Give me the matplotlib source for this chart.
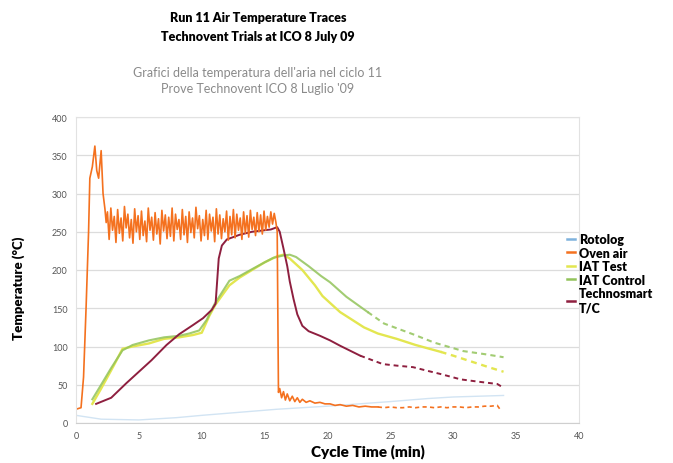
import numpy as np
import matplotlib
matplotlib.use("Agg")
import matplotlib.pyplot as plt

plt.rcParams['font.family'] = ['Lato', 'DejaVu Sans']

# Oven air: ramp, double peak, noisy plateau, drop and tail
oven_start_t = [0.0, 0.4, 0.6, 0.8, 1.0, 1.1, 1.3, 1.5, 1.65, 1.8, 2.0, 2.15, 2.3, 2.4]
oven_start_v = [18, 20, 60, 150, 250, 320, 335, 362, 330, 320, 356, 300, 280, 262]
oven_plateau_v = [276, 240, 281, 252, 270, 236, 279, 248, 268, 238, 283, 255, 273, 242,
                  266, 235, 280, 250, 271, 240, 277, 245, 264, 237, 281, 252, 269, 239,
                  275, 247, 267, 234, 278, 251, 272, 241, 269, 244, 281, 238, 273, 253,
                  266, 240, 279, 246, 270, 236, 276, 249, 268, 242, 282, 254, 271, 238,
                  266, 245, 278, 240, 273, 251, 269, 237, 280, 247, 272, 241, 267, 250,
                  277, 239, 270, 246, 279, 242, 273, 252, 268, 240, 276, 248, 271, 243,
                  278, 253, 269, 245, 275, 250, 272, 247, 277, 252, 270, 256, 276, 260,
                  274, 262]
oven_tail_t = [16.0, 16.1, 16.2, 16.35, 16.5, 16.65, 16.8, 17.0, 17.2, 17.4, 17.6, 17.8,
               18.0, 18.3, 18.6, 19.0, 19.4, 19.8, 20.2, 20.6, 21.0, 21.5, 22.0, 22.5,
               23.0, 23.5, 24.0, 24.5, 25.0, 25.5, 26.0, 26.5, 27.0, 27.5, 28.0, 28.5,
               29.0, 29.5, 30.0, 30.5, 31.0, 31.5, 32.0, 32.5, 33.0, 33.5, 33.8]
oven_tail_v = [250, 40, 45, 33, 41, 30, 38, 29, 35, 28, 33, 27,
               31, 27, 29, 26, 27, 25, 25, 23, 24, 22, 23, 21,
               22, 21, 21, 20, 21, 20, 20, 21, 20, 21, 21, 20,
               21, 20, 21, 21, 20, 21, 21, 22, 22, 23, 16]

techno_t = [1.6, 2.8, 4.0, 5.0, 6.0, 7.2, 8.2, 9.3, 10.1, 10.8, 11.1, 11.35, 11.6, 12.0,
            12.5, 13.0, 13.5, 14.0, 14.5, 15.0, 15.5, 16.0, 16.2, 16.5, 16.8, 17.0, 17.3,
            17.6, 18.0, 18.5, 19.4, 20.2, 21.0, 22.6, 24.4, 25.5, 26.8, 28.0, 29.0, 30.6,
            32.0, 33.5, 33.8]
techno_v = [25, 33, 52, 67, 82, 102, 116, 128, 137, 148, 156, 215, 232, 240,
            243, 246, 248, 250, 251, 252, 253, 256, 250, 228, 205, 185, 162,
            142, 127, 120, 114, 108, 101, 88, 77, 75, 73, 68, 64, 57,
            54, 51, 48]

iat_ctrl_t = [1.3, 2.0, 2.8, 3.7, 4.5, 5.8, 7.0, 8.2, 9.0, 9.8, 10.4, 11.0, 12.2, 13.0,
              14.1, 15.0, 15.7, 16.5, 17.0, 17.5, 18.5, 19.5, 20.2, 21.5, 23.2, 24.5,
              26.8, 28.5, 30.8, 32.5, 34.0]
iat_ctrl_v = [31, 50, 72, 95, 102, 108, 112, 114, 117, 121, 135, 155, 186, 192,
              202, 210, 216, 219, 220, 217, 205, 192, 184, 165, 145, 130,
              116, 105, 94, 90, 86]

iat_test_t = [1.3, 2.0, 3.0, 3.7, 4.5, 5.8, 7.0, 8.2, 9.3, 10.0, 10.6, 11.1, 12.2, 13.0,
              14.0, 15.0, 16.0, 16.5, 17.0, 18.0, 19.0, 19.6, 21.0, 22.9, 24.0, 25.5,
              27.0, 29.0, 30.0, 31.5, 33.0, 34.0]
iat_test_v = [25, 45, 75, 97, 100, 104, 110, 112, 115, 118, 140, 155, 180, 190,
              200, 210, 218, 220, 215, 200, 180, 166, 145, 125, 117, 110,
              102, 93, 88, 80, 72, 67]

roto_t = [0, 2, 5, 8, 10, 13, 16, 20, 25, 28, 30, 34]
roto_v = [10, 5, 4, 7, 10, 14, 18, 22, 28, 32, 34, 36]

C_ROTO = "#7fb2dd"
C_OVEN = "#f4711f"
C_TEST = "#e3e650"
C_CTRL = "#92c35a"
C_TECH = "#8e1f3f"

DASH_FROM = 24.0   # later logging is patchy -> drawn broken


def plot_trace(ax, t, v, color, lw, label, alpha=1.0, split=None):
    t = np.asarray(t, float)
    v = np.asarray(v, float)
    if split is None:
        return ax.plot(t, v, color=color, lw=lw, alpha=alpha, label=label)[0]
    a = t <= split
    b = t >= t[a][-1]
    h = ax.plot(t[a], v[a], color=color, lw=lw, alpha=alpha, label=label)[0]
    ax.plot(t[b], v[b], color=color, lw=lw, alpha=alpha, ls=(0, (2.5, 2)))
    return h


def main():
    fig = plt.figure(figsize=(6.73, 4.64), dpi=100)
    ax = fig.add_axes([76 / 673, 40 / 464, 503 / 673, 306 / 464])

    oven_plat_t = np.linspace(2.5, 15.9, len(oven_plateau_v))
    oven_t = np.concatenate([oven_start_t, oven_plat_t, oven_tail_t])
    oven_v = np.concatenate([oven_start_v, oven_plateau_v, oven_tail_v])

    plot_trace(ax, roto_t, roto_v, C_ROTO, 1.0, "Rotolog", alpha=0.35)
    plot_trace(ax, iat_test_t, iat_test_v, C_TEST, 1.7, "IAT Test", split=29.0)
    plot_trace(ax, iat_ctrl_t, iat_ctrl_v, C_CTRL, 1.5, "IAT Control", alpha=0.85, split=DASH_FROM)
    plot_trace(ax, techno_t, techno_v, C_TECH, 1.4, "Technosmart\nT/C", split=DASH_FROM)
    plot_trace(ax, oven_t, oven_v, C_OVEN, 1.2, "Oven air", split=DASH_FROM)

    ax.set_xlim(0, 40)
    ax.set_ylim(0, 400)
    ax.set_xticks(range(0, 41, 5))
    ax.set_yticks(range(0, 401, 50))
    ax.grid(axis="y", color="#dcdcdc", lw=0.9)
    ax.set_axisbelow(True)
    for side in ("left", "right", "top"):
        ax.spines[side].set_color("#e2e2e2")
    ax.spines["bottom"].set_color("#cfcfcf")
    ax.tick_params(length=0, labelsize=6.5, labelcolor="#555555", pad=6)

    fig.text(19 / 673, 1 - 288 / 464, "Temperature (°C)", rotation=90, fontsize=9.5,
             fontweight="heavy", ha="center", va="center")
    fig.text(368 / 673, 1 - 452 / 464, "Cycle Time (min)", fontsize=11,
             fontweight="heavy", ha="center", va="center")

    fig.text(258 / 673, 1 - 18 / 464, "Run 11 Air Temperature Traces", fontsize=9,
             fontweight="heavy", ha="center", va="center")
    fig.text(258 / 673, 1 - 37 / 464, "Technovent Trials at ICO 8 July 09", fontsize=9,
             fontweight="heavy", ha="center", va="center")
    fig.text(258 / 673, 1 - 73 / 464, "Grafici della temperatura dell'aria nel ciclo 11",
             fontsize=9, color="#8a8a8a", ha="center", va="center")
    fig.text(258 / 673, 1 - 89 / 464, "Prove Technovent ICO 8 Luglio '09",
             fontsize=9, color="#8a8a8a", ha="center", va="center")

    h, l = ax.get_legend_handles_labels()
    order = ["Rotolog", "Oven air", "IAT Test", "IAT Control", "Technosmart\nT/C"]
    hl = {lab: hh for hh, lab in zip(h, l)}
    leg = fig.legend([hl[k] for k in order], order, loc="upper left",
                     bbox_to_anchor=(556 / 673, 1 - 223 / 464), frameon=False,
                     handlelength=0.6, handletextpad=0.35, labelspacing=0.12,
                     prop={"size": 9, "weight": "heavy"})
    for line in leg.get_lines():
        line.set_linewidth(1.8)
        line.set_alpha(1)
        line.set_linestyle("-")

    fig.savefig("out.png", dpi=100)
    plt.close(fig)


if __name__ == "__main__":
    main()
